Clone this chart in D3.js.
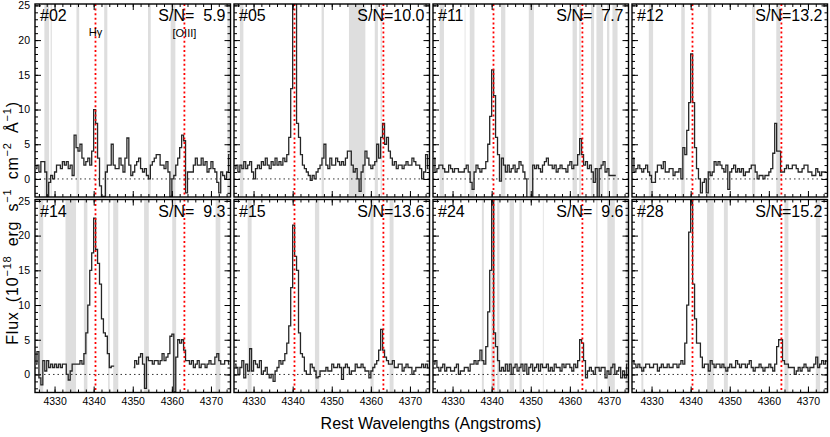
<!DOCTYPE html>
<html>
<head>
<meta charset="utf-8">
<script src="https://cdn.jsdelivr.net/npm/d3@7"></script>
<style>
body{margin:0;background:#fff;}
svg{display:block;font-family:"Liberation Sans",Arial,sans-serif;}
</style>
</head>
<body>
<svg id="chart" width="830" height="437"></svg>
<script>
// rest-frame grid, 0.5 A bins starting at 4325
const lamStart = 4325.0
const binWidth = 0.5
const hGamma = 4340.47
const oiii = 4363.21

const ids = ["#02","#05","#11","#12","#14","#15","#24","#28"]
const snr = ["5.9","10.0","7.7","13.2","9.3","13.6","9.6","15.2"]
const xTicks = [4330,4340,4350,4360,4370]
const yTicks = [0,5,10,15,20,25]

// flux in 1e-18 erg/s/cm2/A, one value per bin (null = no data)
const flux02 = [1.5,2,1,2.5,2.5,1,-2.5,-0.5,0.5,0, 1,2,2,1.5,2.5,2,2.5,1.5,2,0.5,
  6.3,4.5,4,5,3,2,2.5,3,2,4, 10,8,3,-1,-2.5,-2.5,1,2,2,5, 2,1.5,1.5,3,2,1,3,5.9,2,0.5,
  1,2,2.5,3,1.5,1,1.5,0.5,0,2, 2.5,3,3.5,3.5,2,2,1.5,2.5,1,-2.5, 0,0.5,2,3,4.5,6.3,5.5,-2,1,1,
  1,2,3,2,2,3,2,2.5,1,1.5, 2.5,1.5,1,-0.5,-2,1,0.5,0,1,3.5]
const flux05 = [1.5,2,1,2,1.5,2.5,1.5,2,2.5,1, 0,1.5,2,1.5,2.5,2,3,2,1.5,2.5,
  2,3,2,2.5,2,3,2.5,3.5,6,13, 28,28,8,6,3.5,2,1.5,1,0.5,-0.2, 0.5,0,1,1.5,2,3,5,2,1.5,3,
  2,2,3,2.5,2,2.5,2,3,4,4, 2,1,1.5,0,-1.8,1,2,4,3,2, 1.5,2,2.5,5,3,6,8,5,6,4,
  3,2,2.5,1.5,2,2,1.5,2,2.5,2, 2,3,2.5,2,2,1.5,0,1,3.5,1.5]
const flux11 = [3,1,1.5,2,2,1.5,1,1,2,1.5, 1,1.5,1.5,1,1,1,1.5,2,1,-0.5,
  -1.5,1,2,1.5,1,1.5,1.5,2.5,5,9, 15.7,12,6,3.5,-0.3,3,2,1,2,1, 1.5,2,1,1.5,2.5,2,1,0,-4,-4,
  -4,2,1.5,2,1.5,1,2,2.5,3,2, 2,1.5,2,1,1.5,2,1.5,1.5,1,2, 2.5,1.5,2,2,3.5,5.8,3.5,2,2.5,1.5,
  2,1,-0.5,1.5,-4,1.5,2,2.5,1,1.5, 0.5,0.5,0.5,0.5,null,null,null,null,null,null]
const flux12 = [3,1,1.5,2,1.5,1,1.5,2,1,0.5, -0.5,-0.5,1,2,2,1.5,2.5,1,1,1.5,
  1.5,0.5,1,1,1.5,0,4.5,3.5,7,11, 18,11,4.5,1.5,0,-2,-0.5,0,-2,1, 0.5,1,2.5,2,2.5,2,1.5,1,2,-1.5,
  1,1.5,2,1,1.5,1,1.5,0.5,1,1, 1.5,2,2,1,0,0.5,0.5,0,0.5,0.5, 1,1.5,3.7,8,4,4,1,1,1.5,2,
  1.5,1.5,2,2,1.5,1,1,1.5,2,2, 1,1,0.5,0.5,1.5,1,0.5,1,1,1]
const flux14 = [1.5,3.3,-0.5,-1.5,2,0.5,2,1,1.5,1, 1.5,1,1.5,1,1.5,1.5,0,-0.8,0.5,1.5,
  1.5,1.5,1.5,2,1.5,3,6,10,15,17.5, 22.5,18,16,13,8,6,5.5,3,1,1.2, 1.2,null,null,null,null,null,null,null,null,null,
  1,2,1.5,2.5,3,1.5,-2,2.5,2,2, 1.5,2,2,1.5,2,3,2,2.5,3,5.5, 5.8,-2.5,2.5,5,4.5,5,3.5,2,2,1.5,
  2,1,1.5,2,1,1.5,1.5,1,1.5,2, 1.5,1.5,2.5,3,2,1.5,1.5,2,2,1.5]
const flux15 = [1.5,1,0,1,2,-0.5,1.5,0.5,3.7,0.5, 2,1.5,1,2,0,0.5,1,0,-0.5,0,
  -1,0.5,1,2,1.5,2,3,4.5,7,12.5, 21.5,17,15,6,3,2.5,0.5,0,0,1.5, 1,0.5,-0.5,-0.3,0.5,0.5,0.5,1,0.5,0.5,
  1.5,1,1,1.5,1,-0.7,1,1.5,1,0, 0.5,0.5,1.5,1,1,1.5,1,0.5,0.5,-0.5, 0.5,1,1.5,2,3.5,6.5,3.5,2.5,2,1.5,
  1.5,2,1,1,1.5,1.5,0.5,1,1.5,1, 1,0,0.5,1,1,1,1.5,1,1.5,1]
const flux24 = [1.5,2,1,0.5,1,1.5,0.5,1,1,0.5, 0.5,1,1.5,0,0.5,0.5,1,1,0.5,1.5,
  1.5,2,1.5,2,3.5,2,1.5,4,9,15, 28,6,4,2,0.5,1,0.5,1.5,0.5,1.5, 0,1,1.5,0.5,1,1.5,0.5,1.5,0,1,
  1.5,0.5,1,1.5,0.5,1.5,1,1,1.5,0.5, 1,0.5,1.5,1,1,0.5,1.5,1,1.5,1.5, 1,0.5,1.5,1,2,5,4.5,2,-0.5,0.5,
  1,0.5,0,1,1,0.5,1,1,-0.5,0.5, 0,1,1.5,0,0.5,1,-0.5,0.5,-0.5,1.5]
const flux28 = [2,1.5,1,1.5,1,0.5,1,1.5,1.5,1, 1,1.5,1.5,0.5,1,1.5,1,1,1.5,1,
  1,1.5,1.5,1,1.5,2,1.5,4.5,10,20.5, 28,13,8,4.5,4.5,2.5,1,1.5,1.5,0.5, 2,1.5,1,1.5,1.5,1,1.5,1,0.5,1,
  1.5,1,1,2,1.5,1,1.5,1.5,1,1.5, 2,1,0.5,1,1,1.5,1,0.5,1,1, 1.5,1,0.5,1.5,4,5,5,2,1.5,1.5,
  1,1,1,0,0.5,1,0.5,1,1.5,1, 0.5,1,1,1.5,2.5,1,1.5,2,1.5,2]

// masked sky-line regions [from, to] in A
const bands02 = [[4327.4,4328.6],[4329.0,4329.3],[4335.6,4336.3],[4342.7,4343.5],[4353.9,4354.6],[4359.7,4360.9],[4374.2,4374.7]]
const bands05 = [[4326.5,4327.4],[4347.4,4348.0],[4354.4,4358.6],[4361.0,4361.8],[4362.5,4362.8]]
const bands11 = [[4326.7,4327.8],[4333.1,4333.3],[4334.4,4335.6],[4342.4,4343.5],[4349.5,4350.8],[4360.7,4361.8],[4362.4,4362.8],[4365.4,4366.2],[4366.8,4368.5],[4369.5,4370.1],[4370.9,4372.2]]
const bands12 = [[4329.3,4330.4],[4337.6,4338.5],[4344.4,4345.3],[4355.7,4356.5],[4361.9,4362.9]]
const bands14 = [[4326.0,4327.1],[4332.8,4335.5],[4337.5,4338.4],[4343.7,4344.1],[4345.0,4346.3],[4352.9,4354.1],[4360.1,4361.1],[4371.2,4372.4]]
const bands15 = [[4328.5,4329.5],[4345.7,4346.8],[4359.9,4360.7],[4364.8,4365.8]]
const bands24 = [[4337.5,4338.0],[4339.9,4340.9],[4341.4,4342.0],[4344.6,4345.7],[4347.1,4347.7],[4353.1,4353.3],[4366.7,4367.1],[4369.6,4371.5],[4374.3,4374.9]]
const bands28 = [[4327.4,4327.9],[4344.2,4345.9],[4348.5,4349.5],[4364.0,4365.0],[4372.0,4373.1]]

const fluxes = [flux02,flux05,flux11,flux12,flux14,flux15,flux24,flux28]
const bands = [bands02,bands05,bands11,bands12,bands14,bands15,bands24,bands28]

// layout
const left = 35, colStep = 199, pw = 195.5
const rowTop = [4, 199.5], ph = 193

const svg = d3.select("#chart")
const xs = d3.scaleLinear().domain([4325,4375]).range([0,pw])
const ys = d3.scaleLinear().domain([-2.6,25.2]).range([ph,0])

svg.append("defs").append("clipPath").attr("id","clip")
    .append("rect").attr("width",pw).attr("height",ph)

ids.forEach((id,k)=>{
    const col = k%4, row = Math.floor(k/4)
    const g = svg.append("g")
        .attr("transform","translate("+(left+col*colStep)+","+rowTop[row]+")")
    const inner = g.append("g").attr("clip-path","url(#clip)")

    inner.selectAll("rect.band").data(bands[k]).enter().append("rect")
        .attr("class","band")
        .attr("x",d=>xs(d[0]))
        .attr("width",d=>xs(d[1])-xs(d[0]))
        .attr("y",0).attr("height",ph)
        .attr("fill","#dedede")

    // zero level
    inner.append("line")
        .attr("x1",0).attr("x2",pw)
        .attr("y1",ys(0)).attr("y2",ys(0))
        .attr("stroke","#000").attr("stroke-width",0.8)
        .attr("stroke-dasharray","1.5,3")

    const pts = fluxes[k].map((v,i)=>({lam:lamStart+binWidth*(i+0.5), f:v}))
    const line = d3.line()
        .defined(d=>d.f!==null)
        .x(d=>xs(d.lam)).y(d=>ys(d.f))
        .curve(d3.curveStep)
    inner.append("path").datum(pts)
        .attr("d",line)
        .attr("fill","none")
        .attr("stroke","#262626")
        .attr("stroke-width",1.3)

    // line markers
    inner.selectAll("line.em").data([hGamma,oiii]).enter().append("line")
        .attr("class","em")
        .attr("x1",d=>xs(d)).attr("x2",d=>xs(d))
        .attr("y1",0).attr("y2",ph)
        .attr("stroke","#ff0000").attr("stroke-width",1.8)
        .attr("stroke-dasharray","2,2.6")

    // ticks, all four sides, pointing inward
    const minorX = d3.range(4326,4376,2)
    const minorY = d3.range(-2,26,1)
    const addAxis = (axis, tr)=>{
        const a = g.append("g").attr("transform",tr).call(axis)
        a.select(".domain").remove()
        a.selectAll("line").attr("stroke","#000")
        return a
    }
    const bx = addAxis(d3.axisBottom(xs).tickValues(xTicks).tickSize(-6).tickPadding(5)
        .tickFormat(row===1 ? d3.format("d") : ""), "translate(0,"+ph+")")
    bx.selectAll("text").attr("font-size",10.5).attr("font-family","Liberation Sans, Arial, sans-serif").attr("fill","#000")
    addAxis(d3.axisBottom(xs).tickValues(minorX).tickSize(-3).tickFormat(""), "translate(0,"+ph+")")
    addAxis(d3.axisTop(xs).tickValues(xTicks).tickSize(-6).tickFormat(""), "translate(0,0)")
    addAxis(d3.axisTop(xs).tickValues(minorX).tickSize(-3).tickFormat(""), "translate(0,0)")
    const ly = addAxis(d3.axisLeft(ys).tickValues(yTicks).tickSize(-6).tickPadding(5)
        .tickFormat(col===0 ? d3.format("d") : ""), "translate(0,0)")
    ly.selectAll("text").attr("font-size",10.5).attr("font-family","Liberation Sans, Arial, sans-serif").attr("fill","#000")
    addAxis(d3.axisLeft(ys).tickValues(minorY).tickSize(-3).tickFormat(""), "translate(0,0)")
    addAxis(d3.axisRight(ys).tickValues(yTicks).tickSize(-6).tickFormat(""), "translate("+pw+",0)")
    addAxis(d3.axisRight(ys).tickValues(minorY).tickSize(-3).tickFormat(""), "translate("+pw+",0)")

    g.append("rect").attr("width",pw).attr("height",ph)
        .attr("fill","none").attr("stroke","#000").attr("stroke-width",1.4)

    g.append("text").attr("x",5).attr("y",17)
        .attr("font-size",16).text(id)
    g.append("text").attr("x",pw-5).attr("y",17)
        .attr("font-size",16).attr("text-anchor","end")
        .text("S/N=" + (snr[k].length<4 ? "\u2007" : "") + snr[k])

    if(k===0){
        g.append("text").attr("x",xs(hGamma)).attr("y",32)
            .attr("font-size",11).attr("text-anchor","middle").text("H\u03b3")
        g.append("text").attr("x",xs(oiii)).attr("y",33)
            .attr("font-size",11).attr("text-anchor","middle").text("[OIII]")
    }
})

// axis titles
svg.append("text").attr("x",431).attr("y",429)
    .attr("font-size",16).attr("text-anchor","middle")
    .text("Rest Wavelengths (Angstroms)")

const yl = svg.append("text")
    .attr("transform","translate(18,223) rotate(-90)")
    .attr("font-size",16).attr("text-anchor","middle")
    .attr("letter-spacing",0.8).attr("word-spacing",4)
yl.append("tspan").text("Flux (10")
yl.append("tspan").attr("font-size",11).attr("dy",-7).text("\u221218")
yl.append("tspan").attr("dy",7).text(" erg s")
yl.append("tspan").attr("font-size",11).attr("dy",-7).text("\u22121")
yl.append("tspan").attr("dy",7).text(" cm")
yl.append("tspan").attr("font-size",11).attr("dy",-7).text("\u22122")
yl.append("tspan").attr("dy",7).text(" \u00c5")
yl.append("tspan").attr("font-size",11).attr("dy",-7).text("\u22121")
yl.append("tspan").attr("dy",7).text(")")
</script>
</body>
</html>
